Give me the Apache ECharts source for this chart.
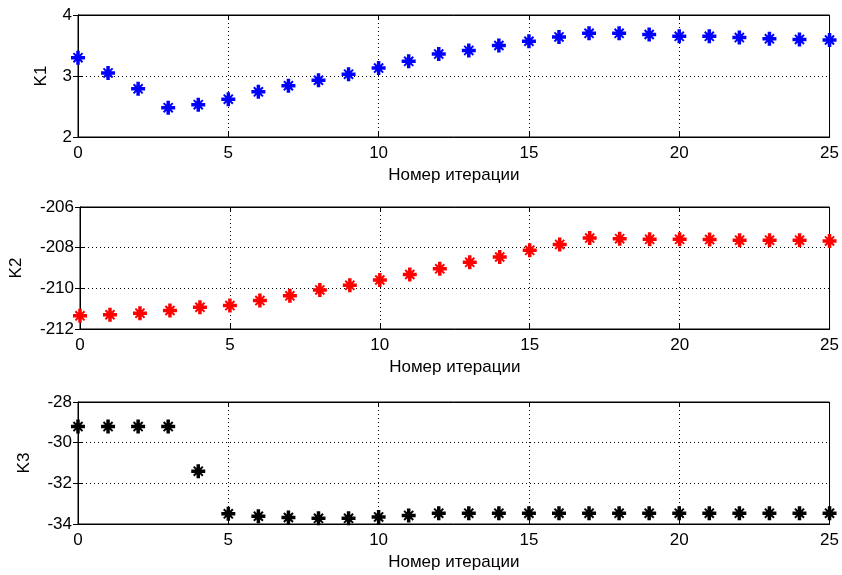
<!DOCTYPE html>
<html>
<head>
<meta charset="utf-8">
<script src="https://cdn.jsdelivr.net/npm/echarts@6/dist/echarts.min.js"></script>
<style>
  html, body { margin: 0; padding: 0; background: #fff; }
  #main { width: 842px; height: 575px; }
</style>
</head>
<body>
<div id="main"></div>
<script>
// номера итераций
var iterations = [0,1,2,3,4,5,6,7,8,9,10,11,12,13,14,15,16,17,18,19,20,21,22,23,24,25];
// значения коэффициентов
var k1Values = [3.30,3.05,2.79,2.48,2.53,2.62,2.74,2.84,2.93,3.03,3.13,3.24,3.36,3.42,3.50,3.57,3.64,3.70,3.70,3.68,3.65,3.65,3.63,3.61,3.60,3.59];
var k2Values = [-211.35,-211.30,-211.22,-211.09,-210.93,-210.85,-210.60,-210.37,-210.08,-209.85,-209.59,-209.32,-209.04,-208.72,-208.46,-208.13,-207.84,-207.53,-207.56,-207.59,-207.59,-207.60,-207.63,-207.63,-207.63,-207.67];
var k3Values = [-29.21,-29.21,-29.21,-29.21,-31.40,-33.50,-33.62,-33.68,-33.72,-33.72,-33.65,-33.58,-33.47,-33.47,-33.47,-33.47,-33.47,-33.47,-33.47,-33.47,-33.47,-33.47,-33.47,-33.47,-33.47,-33.47];
var xTitle = 'Номер итерации';
var yNames = ['K1', 'K2', 'K3'];
var yRanges = [[2, 4, 1], [-212, -206, 2], [-34, -28, 2]];

var FONT = 'Liberation Sans';
// маркер "*" как в MATLAB: жирный плюс с диагоналями
var starPath = 'path://M7.5,0L12.5,0L12.5,20L7.5,20Z M0,7.5L20,7.5L20,12.5L0,12.5Z M2.5,4.5L4.5,2.5L17.5,15.5L15.5,17.5Z M15.5,2.5L17.5,4.5L4.5,17.5L2.5,15.5Z';
var colors = ['#0000ff', '#ff0000', '#000000'];
var tops = [15, 207, 402];
var nameGaps = [28, 55, 45];
var allData = [k1Values, k2Values, k3Values];

var grids = [], xAxes = [], yAxes = [], series = [];
for (var i = 0; i < 3; i++) {
    grids.push({left: 78, right: 8, top: tops[i], height: 122, show: true, borderColor: '#000', borderWidth: 1});
    // нижняя ось
    xAxes.push({
        type: 'value', gridIndex: i, min: 0, max: 25, interval: 5,
        name: xTitle, nameLocation: 'middle', nameGap: 30,
        nameTextStyle: {fontFamily: FONT, fontSize: 17, color: '#000'},
        axisLine: {show: true, lineStyle: {color: '#000'}},
        axisTick: {show: true, inside: true, length: 5, lineStyle: {color: '#000'}},
        axisLabel: {fontFamily: FONT, fontSize: 17, color: '#000', margin: 8},
        splitLine: {show: true, lineStyle: {color: '#000', type: [1, 3]}}
    });
    // верхняя ось (только засечки)
    xAxes.push({
        type: 'value', gridIndex: i, position: 'top', min: 0, max: 25, interval: 5,
        axisLine: {show: true, lineStyle: {color: '#000'}},
        axisTick: {show: true, inside: true, length: 5, lineStyle: {color: '#000'}},
        axisLabel: {show: false}, splitLine: {show: false}
    });
    yAxes.push({
        type: 'value', gridIndex: i, min: yRanges[i][0], max: yRanges[i][1], interval: yRanges[i][2],
        name: yNames[i], nameLocation: 'middle', nameGap: nameGaps[i], nameRotate: 90,
        nameTextStyle: {fontFamily: FONT, fontSize: 17, color: '#000'},
        axisLine: {show: true, lineStyle: {color: '#000'}},
        axisTick: {show: true, inside: true, length: 5, lineStyle: {color: '#000'}},
        axisLabel: {fontFamily: FONT, fontSize: 17, color: '#000', margin: 6},
        splitLine: {show: true, lineStyle: {color: '#000', type: [1, 3]}}
    });
    yAxes.push({
        type: 'value', gridIndex: i, position: 'right', min: yRanges[i][0], max: yRanges[i][1], interval: yRanges[i][2],
        axisLine: {show: true, lineStyle: {color: '#000'}},
        axisTick: {show: true, inside: true, length: 5, lineStyle: {color: '#000'}},
        axisLabel: {show: false}, splitLine: {show: false}
    });
    var pts = [];
    for (var j = 0; j < iterations.length; j++) {
        pts.push([iterations[j], allData[i][j]]);
    }
    series.push({
        type: 'scatter', xAxisIndex: i * 2, yAxisIndex: i * 2, data: pts,
        symbol: starPath, symbolSize: 14, clip: false,
        itemStyle: {color: colors[i], opacity: 1}
    });
}

var myChart = echarts.init(document.getElementById('main'));
myChart.setOption({
    animation: false,
    backgroundColor: '#fff',
    grid: grids,
    xAxis: xAxes,
    yAxis: yAxes,
    series: series
});
</script>
</body>
</html>
